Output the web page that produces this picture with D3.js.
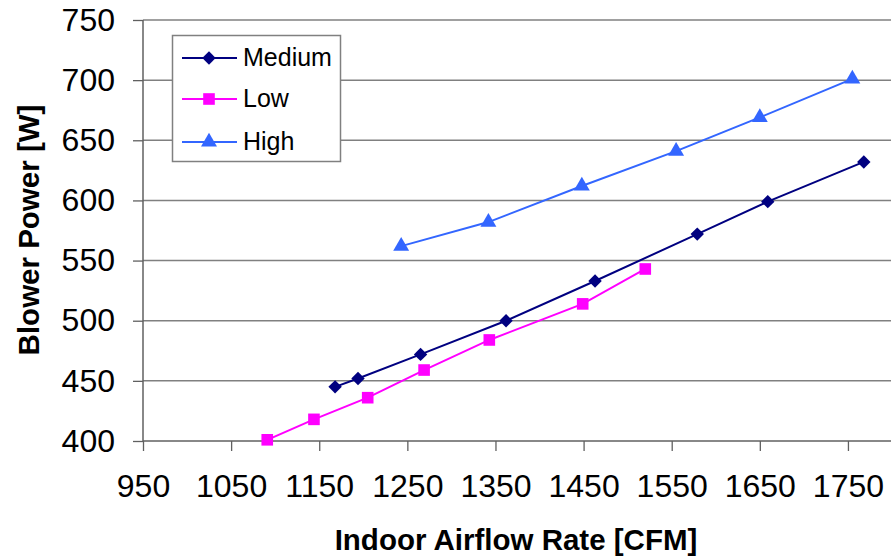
<!DOCTYPE html>
<html>
<head>
<meta charset="utf-8">
<script src="https://cdn.jsdelivr.net/npm/d3@7"></script>
<style>
body { margin: 0; background: #fff; }
svg { display: block; font-family: "Liberation Sans", Arial, sans-serif; }
</style>
</head>
<body>
<svg id="chart" width="891" height="558"></svg>
<script>
// values
var mediumX = [1168, 1194, 1265, 1362, 1463, 1579, 1659, 1768];
var mediumY = [445, 452, 472, 500, 533, 572, 599, 632];
var lowX = [1091, 1144, 1205, 1269, 1343, 1449, 1520];
var lowY = [401, 418, 436, 459, 484, 514, 543];
var highX = [1243, 1342, 1448, 1555, 1650, 1755];
var highY = [562, 582, 612, 641, 669, 701];
var xTicks = [950, 1050, 1150, 1250, 1350, 1450, 1550, 1650, 1750];
var yTicks = [400, 450, 500, 550, 600, 650, 700, 750];

// diamond = square turned 45 degrees
var series = [
    {name: "Medium", xs: mediumX, ys: mediumY, color: "#000080", shape: d3.symbolSquare, size: 90, rot: 45},
    {name: "Low", xs: lowX, ys: lowY, color: "#FF00FF", shape: d3.symbolSquare, size: 135, rot: 0},
    {name: "High", xs: highX, ys: highY, color: "#3366FF", shape: d3.symbolTriangle, size: 110, rot: 0}
];

var plotLeft = 143, plotRight = 892, plotTop = 20, plotBottom = 441;

var svg = d3.select("#chart");
var x = d3.scaleLinear().domain([950, 1800]).range([plotLeft, plotRight]);
var y = d3.scaleLinear().domain([400, 750]).range([plotBottom, plotTop]);

// gridlines
svg.append("g")
    .selectAll("line")
    .data(yTicks.slice(1))
    .enter().append("line")
    .attr("x1", plotLeft).attr("x2", plotRight)
    .attr("y1", d => y(d)).attr("y2", d => y(d))
    .attr("stroke", "#808080")
    .attr("stroke-width", 1.5);

// axes
var yAxis = svg.append("g")
    .attr("transform", "translate(" + plotLeft + ",0)")
    .call(d3.axisLeft(y).tickValues(yTicks).tickSize(10).tickPadding(18).tickFormat(d3.format("d")));
var xAxis = svg.append("g")
    .attr("transform", "translate(0," + plotBottom + ")")
    .call(d3.axisBottom(x).tickValues(xTicks).tickSize(10).tickPadding(23).tickFormat(d3.format("d")));

[xAxis, yAxis].forEach(function(a){
    a.select(".domain").attr("stroke", "#606060").attr("stroke-width", 1.5);
    a.selectAll(".tick line").attr("stroke", "#606060").attr("stroke-width", 1.3);
    a.selectAll(".tick text").attr("fill", "#000").style("font-size", "32px")
        .style("font-family", "'Liberation Sans', Arial, sans-serif");
});
// plain domain lines, no end caps
xAxis.select(".domain").attr("d", "M" + plotLeft + ",0H" + plotRight);
yAxis.select(".domain").attr("d", "M0," + plotBottom + "V" + plotTop);

// lines and markers
var line = d3.line().x(d => x(d[0])).y(d => y(d[1]));
series.forEach(function(s){
    var pts = s.xs.map((v, i) => [v, s.ys[i]]);
    svg.append("path")
        .attr("d", line(pts))
        .attr("fill", "none")
        .attr("stroke", s.color)
        .attr("stroke-width", 2);
    svg.append("g").selectAll("path")
        .data(pts)
        .enter().append("path")
        .attr("d", d3.symbol().type(s.shape).size(s.size))
        .attr("transform", d => "translate(" + x(d[0]) + "," + y(d[1]) + ") rotate(" + s.rot + ")")
        .attr("fill", s.color);
});

// legend
var legend = svg.append("g");
legend.append("rect")
    .attr("x", 172.5).attr("y", 35.5)
    .attr("width", 168).attr("height", 126)
    .attr("fill", "#fff")
    .attr("stroke", "#808080")
    .attr("stroke-width", 1.5);
var legendY = [58, 99, 142];
series.forEach(function(s, i){
    var ly = legendY[i];
    legend.append("line")
        .attr("x1", 182).attr("x2", 237)
        .attr("y1", ly).attr("y2", ly)
        .attr("stroke", s.color).attr("stroke-width", 2);
    legend.append("path")
        .attr("d", d3.symbol().type(s.shape).size(s.size))
        .attr("transform", "translate(209," + ly + ") rotate(" + s.rot + ")")
        .attr("fill", s.color);
    legend.append("text")
        .attr("x", 243).attr("y", ly + 8)
        .style("font-size", "25px")
        .text(s.name);
});

// titles
svg.append("text")
    .attr("x", 516).attr("y", 550)
    .attr("text-anchor", "middle")
    .style("font-size", "29.5px").style("font-weight", "bold")
    .text("Indoor Airflow Rate [CFM]");
svg.append("text")
    .attr("transform", "translate(39,230) rotate(-90)")
    .attr("text-anchor", "middle")
    .style("font-size", "29.5px").style("font-weight", "bold")
    .text("Blower Power [W]");
</script>
</body>
</html>
